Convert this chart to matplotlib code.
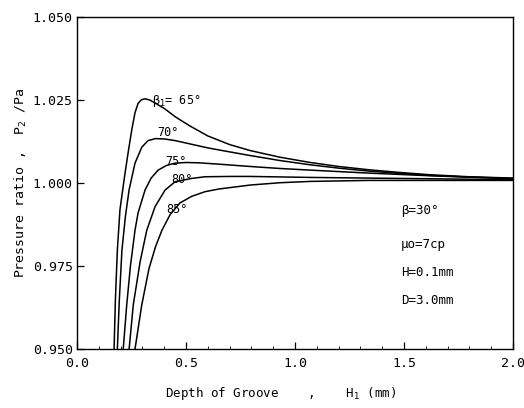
import matplotlib
matplotlib.use("Agg")
import matplotlib.pyplot as plt
from matplotlib.ticker import MultipleLocator

# Data: H1 (mm) vs pressure ratio
h_65 = [0.170, 0.176, 0.185, 0.197, 0.217, 0.234, 0.251, 0.266, 0.280, 0.295, 0.312, 0.335, 0.358, 0.400, 0.450, 0.518, 0.600, 0.700, 0.794, 0.930, 1.070, 1.200, 1.340, 1.480, 1.620, 1.800, 2.000]
p_65 = [0.950, 0.9648, 0.9798, 0.9920, 1.0015, 1.0090, 1.0160, 1.0212, 1.0240, 1.0251, 1.0254, 1.0250, 1.0241, 1.0225, 1.0200, 1.0172, 1.0142, 1.0116, 1.0098, 1.0078, 1.0062, 1.0050, 1.0040, 1.0032, 1.0025, 1.0019, 1.0015]

h_70 = [0.185, 0.194, 0.206, 0.222, 0.239, 0.266, 0.297, 0.326, 0.360, 0.400, 0.450, 0.518, 0.600, 0.700, 0.794, 0.930, 1.070, 1.200, 1.340, 1.480, 1.620, 1.800, 2.000]
p_70 = [0.950, 0.9648, 0.9798, 0.9900, 0.9980, 1.0060, 1.0108, 1.0128, 1.0134, 1.0133, 1.0128, 1.0118, 1.0106, 1.0094, 1.0083, 1.0068, 1.0055, 1.0045, 1.0036, 1.0029, 1.0023, 1.0018, 1.0014]

h_75 = [0.212, 0.228, 0.245, 0.266, 0.280, 0.312, 0.340, 0.372, 0.410, 0.450, 0.500, 0.560, 0.650, 0.794, 0.930, 1.070, 1.340, 1.620, 2.000]
p_75 = [0.950, 0.9633, 0.9750, 0.9858, 0.9910, 0.9979, 1.0015, 1.0039, 1.0053, 1.0060, 1.0062, 1.0061, 1.0057, 1.0050, 1.0044, 1.0039, 1.0030, 1.0022, 1.0013]

h_80 = [0.239, 0.258, 0.290, 0.320, 0.358, 0.404, 0.450, 0.526, 0.587, 0.700, 0.794, 1.070, 1.340, 1.620, 2.000]
p_80 = [0.950, 0.9633, 0.9765, 0.9858, 0.9929, 0.9979, 1.0004, 1.0014, 1.0019, 1.0020, 1.0020, 1.0017, 1.0015, 1.0013, 1.0010]

h_85 = [0.266, 0.297, 0.330, 0.360, 0.389, 0.427, 0.472, 0.526, 0.587, 0.650, 0.794, 0.930, 1.070, 1.340, 1.620, 2.000]
p_85 = [0.950, 0.9633, 0.9742, 0.9808, 0.9857, 0.9905, 0.9940, 0.9960, 0.9974, 0.9982, 0.9994, 1.0001, 1.0005, 1.0008, 1.0008, 1.0008]

x_ticks = [0.0, 0.5, 1.0, 1.5, 2.0]
x_tick_labels = ["0.0", "0.5", "1.0", "1.5", "2.0"]
y_ticks = [0.950, 0.975, 1.000, 1.025, 1.050]
y_tick_labels = ["0.950", "0.975", "1.000", "1.025", "1.050"]

curve_labels = ["β$_1$= 65°", "70°", "75°", "80°", "85°"]
label_pos = [(0.344, 1.0248), (0.367, 1.0153), (0.404, 1.0066), (0.434, 1.0010), (0.411, 0.9920)]

params = ["β=30°", "μo=7cp", "H=0.1mm", "D=3.0mm"]
param_y = [0.9916, 0.9816, 0.9732, 0.9647]

plt.rcParams['font.family'] = ['DejaVu Sans Mono', 'DejaVu Sans']

fig = plt.figure(figsize=(5.24, 4.08), dpi=100)
ax = fig.add_axes([0.147, 0.1446, 0.832, 0.8134])

for h, p in [(h_65, p_65), (h_70, p_70), (h_75, p_75), (h_80, p_80), (h_85, p_85)]:
    ax.plot(h, p, color="black", lw=1.1, solid_joinstyle="round")

for lab, (x, y) in zip(curve_labels, label_pos):
    ax.text(x, y, lab, fontsize=8.5, ha="left", va="center", color="black")

for t, y in zip(params, param_y):
    ax.text(1.485, y, t, fontsize=9, ha="left", va="center", color="black")

ax.set_xlim(0.0, 2.0)
ax.set_ylim(0.950, 1.050)
ax.set_xticks(x_ticks)
ax.set_xticklabels(x_tick_labels, fontsize=9.5)
ax.set_yticks(y_ticks)
ax.set_yticklabels(y_tick_labels, fontsize=9.5)
ax.xaxis.set_minor_locator(MultipleLocator(0.1))
ax.tick_params(which="major", direction="in", length=5, width=0.9, pad=6)
ax.tick_params(axis="y", which="major", pad=3)
ax.tick_params(which="minor", direction="in", length=2, width=0.6)
ax.tick_params(axis="y", which="minor", left=False)
for s in ax.spines.values():
    s.set_linewidth(1.0)

ax.set_xlabel("Depth of Groove    ,    H$_1$ (mm)", fontsize=9)
ax.xaxis.set_label_coords(0.466, -0.108)
ax.set_ylabel("Pressure ratio ,  P$_2$ /Pa", fontsize=9.5)
ax.yaxis.set_label_coords(-0.11, 0.5)

fig.savefig("out.png", dpi=100)
